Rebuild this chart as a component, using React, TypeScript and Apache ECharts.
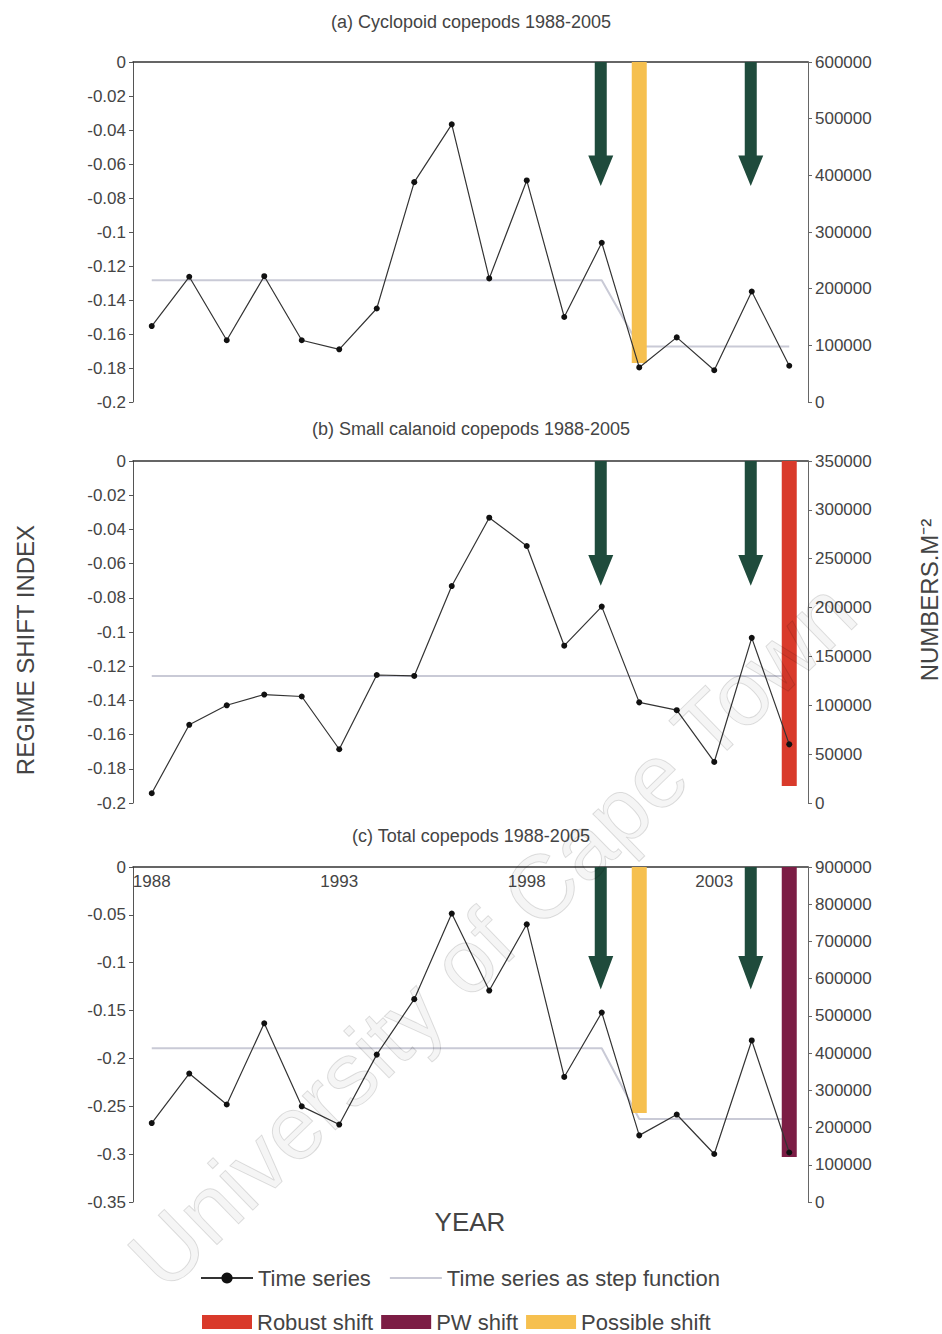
import React, { useEffect, useRef } from 'react';
import * as echarts from 'echarts';

const years = ['1988', '1989', '1990', '1991', '1992', '1993', '1994', '1995', '1996', '1997', '1998', '1999', '2000', '2001', '2002', '2003', '2004', '2005'];

// (a) Cyclopoid copepods, numbers per m2
const cyclopoid = [134000, 221000, 109000, 222000, 109000, 93000, 165000, 388000, 490000, 218000, 391000, 150000, 281000, 61000, 114000, 56000, 195000, 64000];
const cyclopoidStep = [215000, 215000, 215000, 215000, 215000, 215000, 215000, 215000, 215000, 215000, 215000, 215000, 215000, 98000, 98000, 98000, 98000, 98000];

// (b) Small calanoid copepods
const smallCalanoid = [10000, 80000, 100000, 111000, 109000, 55000, 131000, 130000, 222000, 292000, 263000, 161000, 201000, 103000, 95000, 42000, 169000, 60000];
const smallCalanoidStep = [130000, 130000, 130000, 130000, 130000, 130000, 130000, 130000, 130000, 130000, 130000, 130000, 130000, 130000, 130000, 130000, 130000, 130000];

// (c) Total copepods
const totalCopepods = [212000, 345000, 262000, 480000, 257000, 208000, 396000, 545000, 775000, 568000, 746000, 336000, 509000, 179000, 235000, 129000, 434000, 133000];
const totalStep = [413000, 413000, 413000, 413000, 413000, 413000, 413000, 413000, 413000, 413000, 413000, 413000, 413000, 223000, 223000, 223000, 223000, 223000];

// Regime shift index bars [year, RSI]
const possibleShiftA = [['2001', -0.177]];
const robustShiftB = [['2005', -0.19]];
const possibleShiftC = [['2001', -0.257]];
const pwShiftC = [['2005', -0.303]];

// Arrows [year, tip RSI, head-base RSI]
const arrowsA = [['2000', -0.073, -0.055], ['2004', -0.073, -0.055]];
const arrowsB = [['2000', -0.073, -0.055], ['2004', -0.073, -0.055]];
const arrowsC = [['2000', -0.128, -0.093], ['2004', -0.128, -0.093]];

const titles = ['(a) Cyclopoid copepods 1988-2005', '(b) Small calanoid copepods 1988-2005', '(c) Total copepods 1988-2005'];
const rsiMin = [-0.2, -0.2, -0.35];
const rsiStep = [0.02, 0.02, 0.05];
const numMax = [600000, 350000, 900000];
const numStep = [100000, 50000, 100000];

const FONT = 'Liberation Sans, Arial, sans-serif';
const TXT = '#444';

const renderArrow = (params: any, api: any) => {
  const cat = api.value(0);
  const p0 = api.coord([cat, 0]);
  const pTip = api.coord([cat, api.value(1)]);
  const pBase = api.coord([cat, api.value(2)]);
  const x = p0[0] - 1;
  const sw = 6;
  const hw = 12.5;
  return {
    type: 'polygon',
    shape: {
      points: [
        [x - sw, p0[1]], [x + sw, p0[1]], [x + sw, pBase[1]], [x + hw, pBase[1]],
        [x, pTip[1]], [x - hw, pBase[1]], [x - sw, pBase[1]],
      ],
    },
    style: { fill: '#1f4b3c' },
  };
};

export default function App() {
  const ref = useRef<HTMLDivElement>(null);
  useEffect(() => {
    if (!ref.current) return;
    const chart = echarts.init(ref.current, undefined, { renderer: 'svg' });

    const grids = [
      { left: 133, width: 675, top: 62, height: 340 },
      { left: 133, width: 675, top: 461, height: 342 },
      { left: 133, width: 675, top: 867, height: 335 },
    ];
    const titleTops = [8, 415, 822];

    const xAxes = grids.map((_, i) => ({
      type: 'category',
      gridIndex: i,
      data: years,
      position: 'top',
      boundaryGap: true,
      axisLine: { onZero: false, lineStyle: { color: '#333', width: 1.5 } },
      axisTick: { inside: true, length: 5, interval: 0, lineStyle: { color: '#555' } },
      axisLabel: {
        show: i === 2, inside: true, interval: 4, margin: 6,
        fontSize: 17, color: TXT, fontFamily: FONT,
      },
      splitLine: { show: false },
    }));

    const yAxes: any[] = [];
    grids.forEach((_, i) => {
      yAxes.push({
        type: 'value', gridIndex: i, position: 'left',
        min: rsiMin[i], max: 0, interval: rsiStep[i],
        axisLine: { show: true, lineStyle: { color: '#555', width: 1 } },
        axisTick: { show: true, length: 4, lineStyle: { color: '#555' } },
        axisLabel: { fontSize: 17, color: TXT, fontFamily: FONT, margin: 7 },
        splitLine: { show: false },
      });
      yAxes.push({
        type: 'value', gridIndex: i, position: 'right',
        min: 0, max: numMax[i], interval: numStep[i],
        axisLine: { show: true, lineStyle: { color: '#666', width: 1 } },
        axisTick: { show: true, length: 4, lineStyle: { color: '#666' } },
        axisLabel: { fontSize: 17, color: TXT, fontFamily: FONT, margin: 7, formatter: (v: number) => String(v) },
        splitLine: { show: false },
      });
    });

    const tsData = [cyclopoid, smallCalanoid, totalCopepods];
    const stepData = [cyclopoidStep, smallCalanoidStep, totalStep];
    const arrowData = [arrowsA, arrowsB, arrowsC];

    const series: any[] = [];
    grids.forEach((_, i) => {
      series.push({
        name: 'Time series as step function', type: 'line',
        xAxisIndex: i, yAxisIndex: 2 * i + 1,
        data: stepData[i], symbol: 'none',
        lineStyle: { color: '#c9cad6', width: 2 }, itemStyle: { color: '#c9cad6' },
        z: 3,
      });
      series.push({
        name: 'Time series', type: 'line',
        xAxisIndex: i, yAxisIndex: 2 * i + 1,
        data: tsData[i], symbol: 'circle', symbolSize: 6,
        lineStyle: { color: '#333', width: 1.2 }, itemStyle: { color: '#111' },
        z: 6,
      });
      series.push({
        name: 'Arrows', type: 'custom',
        xAxisIndex: i, yAxisIndex: 2 * i,
        data: arrowData[i], renderItem: renderArrow,
        encode: { x: 0, y: 1 }, z: 5,
      });
    });

    const barBase = { type: 'bar', barWidth: 15, barGap: '-100%', z: 4 };
    series.push({ ...barBase, name: 'Possible shift', xAxisIndex: 0, yAxisIndex: 0, data: possibleShiftA, itemStyle: { color: '#f6c04f' } });
    series.push({ ...barBase, name: 'Robust shift', xAxisIndex: 1, yAxisIndex: 2, data: robustShiftB, itemStyle: { color: '#d93a2b' } });
    series.push({ ...barBase, name: 'Possible shift', xAxisIndex: 2, yAxisIndex: 4, data: possibleShiftC, itemStyle: { color: '#f6c04f' } });
    series.push({ ...barBase, name: 'PW shift', xAxisIndex: 2, yAxisIndex: 4, data: pwShiftC, itemStyle: { color: '#7c1d45' } });

    const option: any = {
      animation: false,
      backgroundColor: '#ffffff',
      textStyle: { fontFamily: FONT },
      title: titles.map((t, i) => ({
        text: t, left: 'center', top: titleTops[i],
        textStyle: { fontSize: 18, fontWeight: 'normal', color: TXT, fontFamily: FONT },
      })),
      grid: grids,
      xAxis: xAxes,
      yAxis: yAxes,
      legend: [
        {
          data: [
            'Time series',
            { name: 'Time series as step function', itemStyle: { opacity: 0 } },
          ],
          left: 195, top: 1262, itemWidth: 52, itemHeight: 14, itemGap: 18,
          textStyle: { fontSize: 22, color: TXT, fontFamily: FONT },
          selectedMode: false,
        },
        {
          data: ['Robust shift', 'PW shift', 'Possible shift'],
          left: 197, top: 1306, itemWidth: 50, itemHeight: 14, itemGap: 8, icon: 'rect',
          textStyle: { fontSize: 22, color: TXT, fontFamily: FONT },
          selectedMode: false,
        },
      ],
      graphic: [
        {
          type: 'text', x: 25, y: 650, rotation: Math.PI / 2,
          style: { text: 'REGIME SHIFT INDEX', fontSize: 24, fill: '#444', fontFamily: FONT, textAlign: 'center', textVerticalAlign: 'middle' },
        },
        {
          type: 'text', x: 929, y: 600, rotation: Math.PI / 2,
          style: { text: 'NUMBERS.M⁻²', fontSize: 24, fill: '#444', fontFamily: FONT, textAlign: 'center', textVerticalAlign: 'middle' },
        },
        {
          type: 'text', x: 470, y: 1222,
          style: { text: 'YEAR', fontSize: 26, fill: '#444', fontFamily: FONT, textAlign: 'center', textVerticalAlign: 'middle' },
        },
        {
          type: 'text', x: 492, y: 935, rotation: 0.77, z: 100,
          style: {
            text: 'University of Cape Town', fontSize: 90, fontFamily: FONT,
            fill: 'rgba(0,0,0,0.04)', stroke: 'rgba(0,0,0,0.13)', lineWidth: 1,
            textAlign: 'center', textVerticalAlign: 'middle',
          },
          silent: true,
        },
      ],
      series,
    };
    chart.setOption(option);
    return () => chart.dispose();
  }, []);

  return (
    <div
      ref={ref}
      style={{ position: 'absolute', left: 0, top: 0, width: 942, height: 1334, background: '#fff' }}
    />
  );
}
